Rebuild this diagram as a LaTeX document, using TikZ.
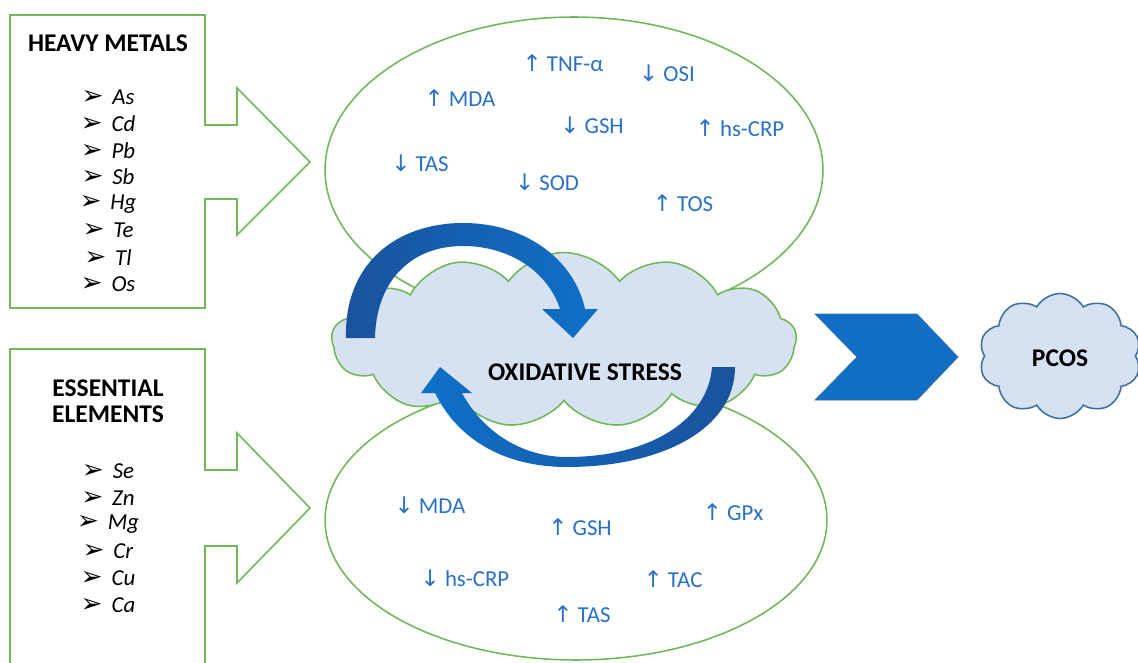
\documentclass[tikz,border=0pt]{standalone}
\usepackage{fontspec}
\setmainfont{Carlito}
\newfontfamily\symfont{DejaVu Sans}
\usetikzlibrary{shapes.symbols}

\definecolor{boxgreen}{RGB}{112,184,90}
\definecolor{cloudblue}{RGB}{214,226,242}
\definecolor{txtblue}{RGB}{40,112,200}
\definecolor{arrowdark}{RGB}{26,82,156}
\definecolor{arrowlight}{RGB}{14,112,200}
\definecolor{chevblue}{RGB}{16,110,196}
\definecolor{pcosline}{RGB}{65,113,156}

\newcommand{\up}{{\symfont\char"2191}}
\newcommand{\dn}{{\symfont\char"2193}}
\newcommand{\bul}{\smash{\symfont\fontsize{15}{15}\selectfont\char"27A2}\hspace{5pt}}

\tikzset{
  title/.style={font=\fontsize{14.5}{17}\selectfont\bfseries, align=center},
  item/.style={font=\fontsize{13}{15}\selectfont, inner sep=1pt},
  marker/.style={font=\fontsize{13}{15}\selectfont, text=txtblue},
  outline/.style={boxgreen, line width=0.9pt}
}

\begin{document}
\begin{tikzpicture}[x=0.02cm, y=-0.02cm]
\clip (0,0) rectangle (1138,662);

% CALLOUT BOXES
  \draw[outline] (10,15) -- (205,15) -- (205,125) -- (237,125) -- (237,88) -- (310,162)
    -- (237,235) -- (237,199) -- (205,199) -- (205,308) -- (10,308) -- cycle;
  \draw[outline] (10,349) -- (205,349) -- (205,470) -- (237,470) -- (237,433) -- (310,508)
    -- (237,583) -- (237,546) -- (205,546) -- (205,690) -- (10,690) -- cycle;

  \node[title] (hm) at (108,43) {HEAVY METALS};
  \foreach \el [count=\i] in {As,Cd,Pb,Sb,Hg,Te,Tl,Os}
      \node[item] (hm\i) at (108,{97+26.7*(\i-1)}) {\bul\textit{\el}};

  \node[title] (ee) at (108,401) {ESSENTIAL\\[-2pt]ELEMENTS};
  \foreach \el [count=\i] in {Se,Zn,Mg,Cr,Cu,Ca}
      \node[item] (ee\i) at (108,{471+26.8*(\i-1)}) {\bul\textit{\el}};

% ELLIPSES
  \draw[outline] (574,170) ellipse [x radius=4.98cm, y radius=3.06cm];
  \draw[outline] (576,520) ellipse [x radius=5.02cm, y radius=2.8cm];

  \foreach \x/\y/\t [count=\i] in {563/63/\up\ TNF-α, 667/73/\dn\ OSI, 460/98/\up\ MDA,
      592/125/\dn\ GSH, 740/128/\up\ hs-CRP, 420/163/\dn\ TAS, 547/182/\dn\ SOD, 683/203/\up\ TOS}
      \node[marker] (hi\i) at (\x,\y) {\t};

  \foreach \x/\y/\t [count=\i] in {430/505/\dn\ MDA, 580/527/\up\ GSH, 733/512/\up\ GPx,
      465/578/\dn\ hs-CRP, 673/579/\up\ TAC, 582/614/\up\ TAS}
      \node[marker] (lo\i) at (\x,\y) {\t};

% OXIDATIVE STRESS
  \node[cloud, cloud puffs=13, cloud puff arc=110, draw=boxgreen, line width=0.9pt,
        fill=cloudblue, minimum width=9.3cm, minimum height=3.5cm, inner sep=0pt] (ox) at (564,340) {};
  \node[title] (oxt) at (585,372) {OXIDATIVE STRESS};

% CURVED ARROWS
  \shade[left color=arrowdark, right color=arrowlight]
    (346,338) .. controls (344,262) and (398,223) .. (463,223)
    .. controls (528,223) and (575,262) .. (585,309)
    -- (598,309) -- (573,338) -- (542,309) -- (560,309)
    .. controls (548,272) and (510,246) .. (463,246)
    .. controls (410,246) and (376,282) .. (375,338) -- cycle;

  \shade[left color=arrowlight, right color=arrowdark]
    (735,367) .. controls (735,430) and (660,467) .. (567,467)
    .. controls (505,467) and (458,440) .. (435,393)
    -- (421,393) -- (440,367) -- (472,393) -- (462,393)
    .. controls (482,430) and (520,457) .. (567,457)
    .. controls (650,457) and (708,420) .. (712,367) -- cycle;

% PCOS
  \fill[chevblue, draw=pcosline, line width=0.4pt] (815,314) -- (917,314) -- (958,357)
    -- (917,400) -- (815,400) -- (857,357) -- cycle;
  \node[cloud, cloud puffs=10, cloud puff arc=120, draw=pcosline, line width=0.9pt,
        fill=cloudblue, minimum width=3.24cm, minimum height=2.5cm, inner sep=0pt] (pc) at (1060,356) {};
  \node[title] (pct) at (1060,358) {PCOS};

\end{tikzpicture}
\end{document}
